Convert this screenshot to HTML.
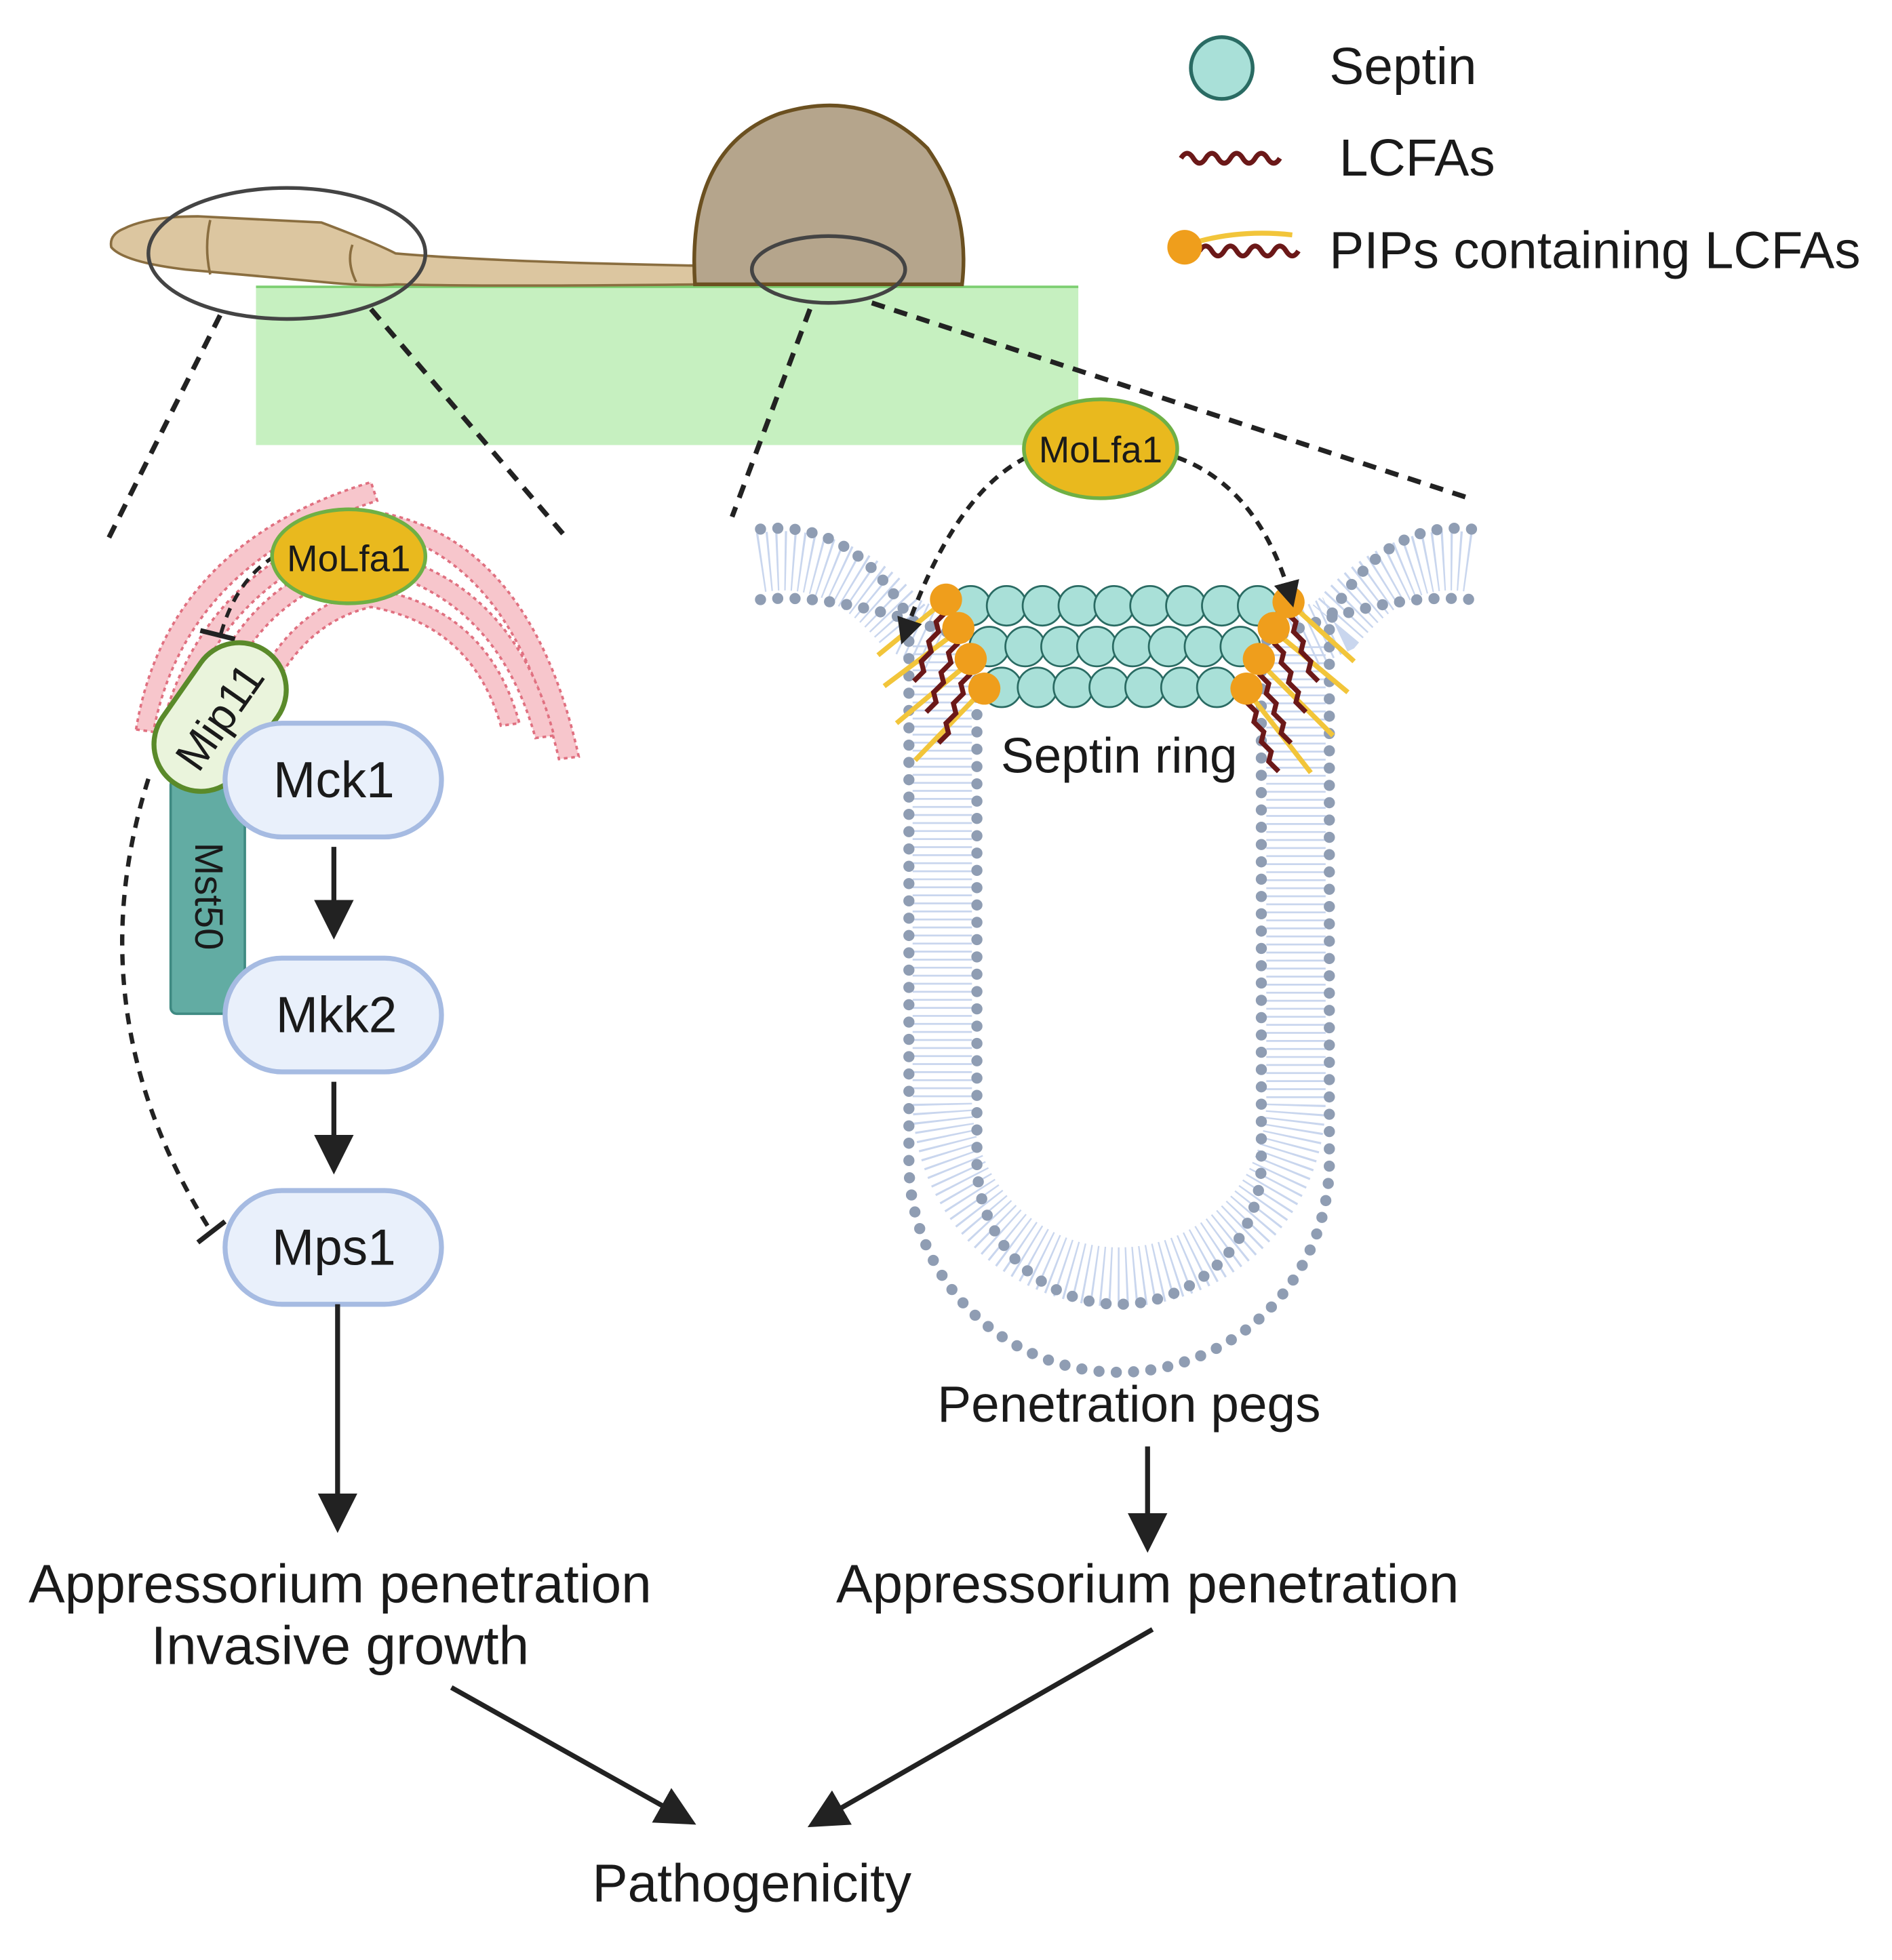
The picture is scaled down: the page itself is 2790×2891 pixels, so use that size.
<!DOCTYPE html>
<html><head><meta charset="utf-8"><style>
html,body{margin:0;padding:0;background:#fff}
svg{display:block}
text{font-family:"Liberation Sans",sans-serif;fill:#1a1a1a}
</style></head><body>
<svg width="2790" height="2891" viewBox="0 0 1530 1585.4" preserveAspectRatio="none" xmlns="http://www.w3.org/2000/svg">
<defs>
<marker id="ah" markerWidth="8" markerHeight="8" refX="6" refY="4" orient="auto" markerUnits="strokeWidth"><path d="M0,0 L8,4 L0,8 Z" fill="#222"/></marker>
<marker id="ah2" markerWidth="6" markerHeight="6" refX="5" refY="3" orient="auto" markerUnits="strokeWidth"><path d="M0,0 L6,3 L0,6 Z" fill="#222"/></marker>
</defs>
<!-- legend -->
<circle cx="988" cy="55" r="25" fill="#a9e0d8" stroke="#2a6b63" stroke-width="3"/>
<text x="1075" y="68" font-size="42">Septin</text>
<path d="M955,128 q5,-8 10,0 t10,0 t10,0 t10,0 t10,0 t10,0 t10,0 t10,0" fill="none" stroke="#6b1818" stroke-width="4"/>
<text x="1083" y="142" font-size="42">LCFAs</text>
<path d="M960,198 Q1000,185 1045,190" fill="none" stroke="#f2c53a" stroke-width="4"/>
<path d="M970,203 q5,-8 10,0 t10,0 t10,0 t10,0 t10,0 t10,0 t10,0 t10,0" fill="none" stroke="#6b1818" stroke-width="4"/>
<circle cx="958" cy="200" r="14" fill="#ef9e1c"/>
<text x="1075" y="217" font-size="42">PIPs containing LCFAs</text>
<!-- green -->
<rect x="207" y="232" width="665" height="128" fill="#c6f0c0"/>
<line x1="207" y1="232" x2="872" y2="232" stroke="#7ccf70" stroke-width="2"/>
<!-- hypha -->
<path d="M100,185 Q120,175 160,175 L260,180 Q300,195 320,205 Q400,212 570,215 L570,230 Q400,232 320,230 Q300,232 260,228 L150,218 Q100,212 90,200 Q88,190 100,185Z" fill="#dcc6a0" stroke="#8a6e40" stroke-width="2"/>
<path d="M170,178 Q165,200 170,222 M285,198 Q280,212 288,228" fill="none" stroke="#8a6e40" stroke-width="2"/>
<path d="M562,230 Q555,120 630,92 Q700,70 750,120 Q785,170 778,230 Z" fill="#b5a58c" stroke="#6b5020" stroke-width="3"/>
<ellipse cx="232" cy="205" rx="112" ry="53" fill="none" stroke="#444" stroke-width="3"/>
<ellipse cx="670" cy="218" rx="62" ry="27" fill="none" stroke="#444" stroke-width="3"/>
<g stroke="#222" stroke-width="4" stroke-dasharray="11 8" fill="none">
<line x1="178" y1="255" x2="88" y2="435"/>
<line x1="300" y1="250" x2="458" y2="435"/>
<line x1="655" y1="250" x2="592" y2="418"/>
<line x1="705" y1="245" x2="1185" y2="402"/>
</g>
<!-- ER -->
<g fill="#f7c6cc" stroke="#e07080" stroke-width="2">
<path d="M110,590 Q135,440 300,390 L305,405 Q150,455 124,592 Z" stroke-dasharray="3 3"/>
<path d="M128,600 Q160,455 310,415 Q430,440 468,612 L452,614 Q415,455 310,430 Q172,468 143,602 Z" stroke-dasharray="3 3"/>
<path d="M165,565 Q200,465 300,445 Q415,468 448,595 L433,597 Q402,484 300,460 Q210,480 180,567 Z" stroke-dasharray="3 3"/>
<path d="M198,575 Q228,492 300,476 Q395,492 420,585 L405,587 Q382,506 300,491 Q240,505 212,577 Z" stroke-dasharray="3 3"/>
</g>
<!-- MoLfa1 left -->
<path d="M222,450 Q190,470 178,515" fill="none" stroke="#222" stroke-width="3" stroke-dasharray="8 6"/>
<line x1="162" y1="510" x2="190" y2="517" stroke="#222" stroke-width="4"/>
<ellipse cx="282" cy="450" rx="62" ry="38" fill="#e9b91e" stroke="#6fb045" stroke-width="3"/>
<text x="282" y="462" font-size="30" text-anchor="middle">MoLfa1</text>
<!-- Mst50 -->
<rect x="138" y="630" width="60" height="190" rx="5" fill="#62aca3" stroke="#3f8a82" stroke-width="2"/>
<text transform="translate(158,725) rotate(90)" font-size="32" text-anchor="middle">Mst50</text>
<!-- Mip11 -->
<g transform="translate(178,580) rotate(-55)">
<rect x="-65" y="-38" width="130" height="76" rx="38" fill="#eaf4dc" stroke="#5a8a2a" stroke-width="4"/>
<text x="0" y="12" font-size="36" text-anchor="middle">Mip11</text>
</g>
<!-- boxes -->
<g fill="#e9f0fb" stroke="#a6bbe2" stroke-width="4">
<rect x="182" y="585" width="175" height="92" rx="46"/>
<rect x="182" y="775" width="175" height="92" rx="46"/>
<rect x="182" y="963" width="175" height="92" rx="46"/>
</g>
<text x="270" y="645" font-size="41" text-anchor="middle">Mck1</text>
<text x="272" y="835" font-size="41" text-anchor="middle">Mkk2</text>
<text x="270" y="1023" font-size="41" text-anchor="middle">Mps1</text>
<g stroke="#222" stroke-width="4" marker-end="url(#ah)">
<line x1="270" y1="685" x2="270" y2="752"/>
<line x1="270" y1="875" x2="270" y2="942"/>
<line x1="273" y1="1055" x2="273" y2="1232"/>
<line x1="928" y1="1170" x2="928" y2="1248"/>
<line x1="365" y1="1365" x2="556" y2="1472"/>
<line x1="932" y1="1318" x2="660" y2="1474"/>
</g>
<!-- inhibition curve -->
<path d="M120,630 Q60,820 170,995" fill="none" stroke="#222" stroke-width="3.5" stroke-dasharray="9 7"/>
<line x1="160" y1="1005" x2="182" y2="988" stroke="#222" stroke-width="4"/>
<!-- membrane -->
<g fill="none">
<path d="M615,455 Q680,445 730,505 L762,520 L762,890 A143,143 0 0 0 1048,890 L1048,520 L1080,505 Q1130,445 1190,455" stroke="#c9d6ee" stroke-width="48" stroke-dasharray="1.5 5"/>
<path d="M615,428 Q690,420 735,500 L735,940 A170,170 0 0 0 1075,940 L1075,500 Q1120,420 1190,428" stroke="#8f9db3" stroke-width="9" stroke-linecap="round" stroke-dasharray="0 14"/>
<path d="M615,485 Q680,478 790,520 L790,940 A115,115 0 0 0 1020,940 L1020,520 Q1120,478 1190,485" stroke="#8f9db3" stroke-width="9" stroke-linecap="round" stroke-dasharray="0 14"/>
</g>
<!-- septins -->
<g fill="#a9e0d8" stroke="#2a6b63" stroke-width="1.5">
<circle cx="785" cy="490" r="16"/><circle cx="814" cy="490" r="16"/><circle cx="843" cy="490" r="16"/><circle cx="872" cy="490" r="16"/><circle cx="901" cy="490" r="16"/><circle cx="930" cy="490" r="16"/><circle cx="959" cy="490" r="16"/><circle cx="988" cy="490" r="16"/><circle cx="1017" cy="490" r="16"/>
<circle cx="800" cy="523" r="16"/><circle cx="829" cy="523" r="16"/><circle cx="858" cy="523" r="16"/><circle cx="887" cy="523" r="16"/><circle cx="916" cy="523" r="16"/><circle cx="945" cy="523" r="16"/><circle cx="974" cy="523" r="16"/><circle cx="1003" cy="523" r="16"/>
<circle cx="810" cy="556" r="16"/><circle cx="839" cy="556" r="16"/><circle cx="868" cy="556" r="16"/><circle cx="897" cy="556" r="16"/><circle cx="926" cy="556" r="16"/><circle cx="955" cy="556" r="16"/><circle cx="984" cy="556" r="16"/>
</g>
<!-- lipids -->
<g fill="none" stroke-width="4">
<path d="M765,485 L710,530 M775,510 L715,555 M785,535 L725,585 M795,558 L740,615" stroke="#f2c53a"/>
<path d="M765,495 l-8,8 l2,8 l-8,8 l2,8 l-8,8 l2,8 l-8,8 M775,520 l-8,8 l2,8 l-8,8 l2,8 l-8,8 l2,8 l-8,8 M785,545 l-8,8 l2,8 l-8,8 l2,8 l-8,8 l2,8 l-8,8" stroke="#6b1818"/>
<path d="M1040,485 L1095,535 M1030,510 L1090,560 M1018,535 L1078,595 M1008,558 L1060,625" stroke="#f2c53a"/>
<path d="M1040,495 l8,8 l-2,8 l8,8 l-2,8 l8,8 l-2,8 l8,8 M1030,520 l8,8 l-2,8 l8,8 l-2,8 l8,8 l-2,8 l8,8 M1018,545 l8,8 l-2,8 l8,8 l-2,8 l8,8 l-2,8 l8,8 M1008,568 l8,8 l-2,8 l8,8 l-2,8 l8,8 l-2,8 l8,8" stroke="#6b1818"/>
</g>
<g fill="#ef9e1c"><circle cx="765" cy="485" r="13"/><circle cx="775" cy="508" r="13"/><circle cx="785" cy="533" r="13"/><circle cx="796" cy="557" r="13"/>
<circle cx="1042" cy="487" r="13"/><circle cx="1030" cy="508" r="13"/><circle cx="1018" cy="533" r="13"/><circle cx="1008" cy="557" r="13"/></g>
<!-- right MoLfa1 -->
<path d="M830,370 Q770,400 730,518" fill="none" stroke="#222" stroke-width="3.5" stroke-dasharray="8 6" marker-end="url(#ah2)"/>
<path d="M952,370 Q1020,395 1045,488" fill="none" stroke="#222" stroke-width="3.5" stroke-dasharray="8 6" marker-end="url(#ah2)"/>
<ellipse cx="890" cy="363" rx="62" ry="40" fill="#e9b91e" stroke="#6fb045" stroke-width="3"/>
<text x="890" y="374" font-size="30" text-anchor="middle">MoLfa1</text>
<text x="905" y="625" font-size="40" text-anchor="middle">Septin ring</text>
<text x="913" y="1150" font-size="41" text-anchor="middle">Penetration pegs</text>
<text x="928" y="1296" font-size="44" text-anchor="middle">Appressorium penetration</text>
<text x="275" y="1296" font-size="44" text-anchor="middle">Appressorium penetration</text>
<text x="275" y="1346" font-size="44" text-anchor="middle">Invasive growth</text>
<text x="608" y="1538" font-size="43" text-anchor="middle">Pathogenicity</text>
</svg>
</body></html>
